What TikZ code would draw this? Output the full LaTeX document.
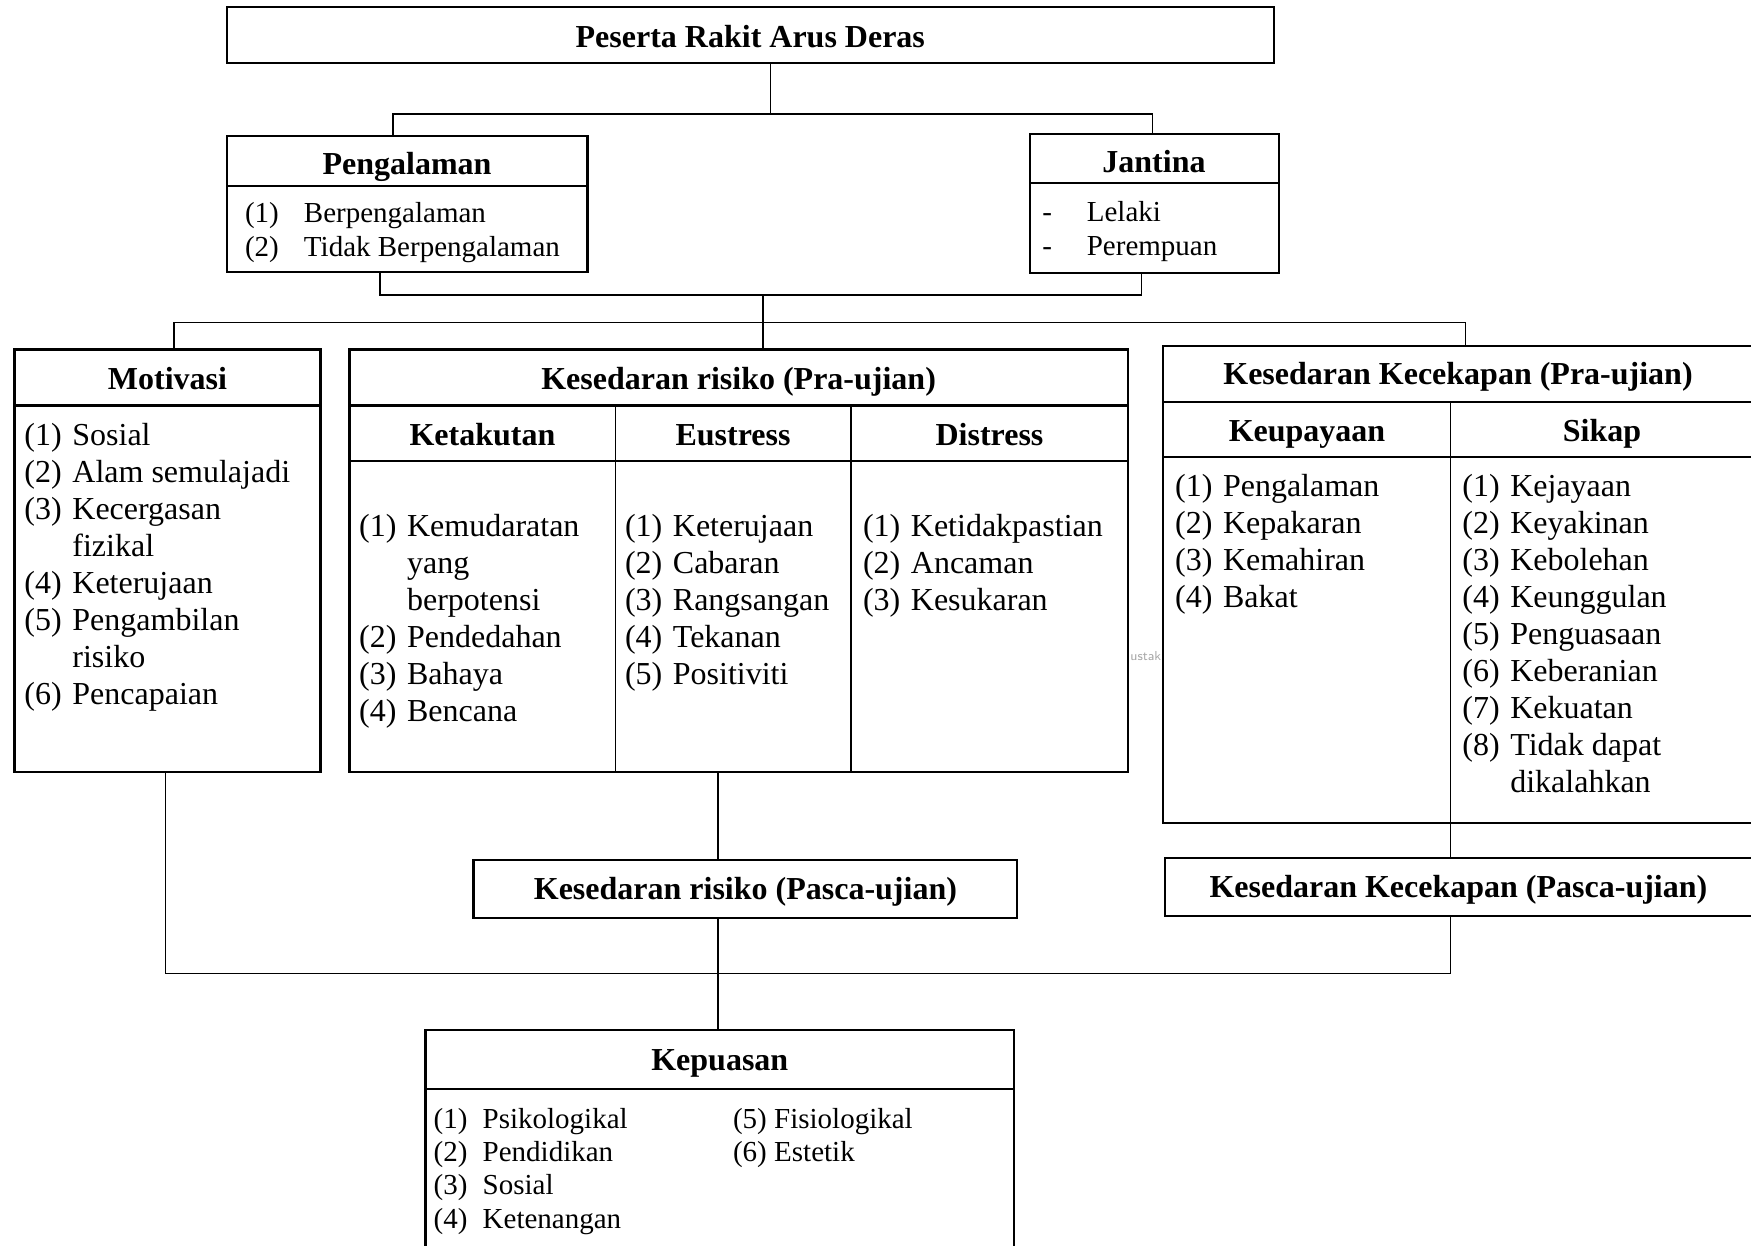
\documentclass[tikz,border=0pt]{standalone}
\usepackage{fontspec}
\setmainfont{Liberation Serif}
\usetikzlibrary{fit}
\tikzset{
  box/.style={draw, line width=1.1pt, inner sep=0pt},
  conn/.style={line width=0.8pt},
  hdiv/.style={line width=1.1pt},
  vdiv/.style={line width=0.7pt},
  head/.style={font=\fontsize{16}{19}\selectfont\bfseries, inner sep=0pt, anchor=base},
  lst/.style={font=\fontsize{16}{18.5}\selectfont, inner sep=0pt, anchor=base west},
  slst/.style={font=\fontsize{14.5}{17}\selectfont, inner sep=0pt, anchor=base west},
}
\begin{document}
\begin{tikzpicture}[x=0.5pt,y=-0.5pt]
\useasboundingbox (0,0) rectangle (1751,1246);
\clip (0,0) rectangle (1751,1246);

% ---------- boxes ----------
\node[box, fit={(226.7,7.3) (1274,63.3)}] (top) {};
\node[box, fit={(226.7,136) (587.4,271.7)}] (pg) {};
\node[box, fit={(1029.6,134) (1278.6,272.7)}] (jt) {};
\node[box, fit={(14.5,349.5) (320.5,771.6)}] (mot) {};
\node[box, fit={(349.5,349.5) (1127.7,771.6)}] (rp) {};
\node[box, fit={(1163,346) (1753,822.7)}] (kk) {};
\node[box, fit={(473.5,860) (1017.3,917.7)}] (rq) {};
\node[box, fit={(1164.7,858.3) (1753,916)}] (kq) {};
\node[box, fit={(425.5,1030) (1014,1262)}] (kp) {};

% ---------- dividers ----------
\draw[hdiv] (226.7,185.7) -- (587.4,185.7);
\draw[hdiv] (1029.6,183.3) -- (1278.6,183.3);
\draw[hdiv] (14.5,405.5) -- (320.5,405.5);
\draw[hdiv] (349.5,405.5) -- (1127.7,405.5);
\draw[hdiv] (349.5,461) -- (1127.7,461);
\draw[vdiv] (615.3,405.5) -- (615.3,771.6);
\draw[vdiv] (851,405.5) -- (851,771.6);
\draw[hdiv] (1163,401.7) -- (1753,401.7);
\draw[hdiv] (1163,457.3) -- (1753,457.3);
\draw[vdiv] (1450.6,401.7) -- (1450.6,822.7);
\draw[hdiv] (425.5,1089.3) -- (1014,1089.3);

% ---------- connector coordinates ----------
\coordinate (j1) at (770.5,114);
\coordinate (b1L) at (393,114);
\coordinate (b1R) at (1152.4,114);
\coordinate (b2L) at (379.7,295.3);
\coordinate (b2R) at (1141.3,295.3);
\coordinate (b2M) at (762.7,295.3);
\coordinate (b3M) at (762.7,322.7);
\coordinate (b3L) at (174.2,322.7);
\coordinate (b3R) at (1465.5,322.7);
\coordinate (c1) at (718,0);
\coordinate (c2) at (1450.6,0);
\coordinate (b4L) at (165.3,973.3);
\coordinate (b4R) at (1450.6,973.3);
\coordinate (b4M) at (718,973.3);

% ---------- connectors ----------
\draw[conn] (top.south -| j1) -- (j1);
\draw[conn] (pg.north -| b1L) |- (b1R) -- (jt.north -| b1R);
\draw[conn] (pg.south -| b2L) |- (b2R) -- (jt.south -| b2R);
\draw[conn] (b2M) -- (b3M);
\draw[conn] (mot.north -| b3L) |- (b3R) -- (kk.north -| b3R);
\draw[conn] (b3M) -- (rp.north -| b3M);
\draw[conn] (rp.south -| c1) -- (rq.north -| c1);
\draw[conn] (kk.south -| c2) -- (kq.north -| c2);
\draw[conn] (mot.south -| b4L) |- (b4R) -- (kq.south -| b4R);
\draw[conn] (rq.south -| b4M) -- (kp.north -| b4M);

% ---------- headings ----------
\node[head] (h0) at (750.3,47.7) {Peserta Rakit Arus Deras};
\node[head] (h1) at (407,175) {Pengalaman};
\node[head] (h2) at (1154,172.7) {Jantina};
\node[head] (h3) at (167.5,389.3) {Motivasi};
\node[head] (h4) at (738.6,389) {Kesedaran risiko (Pra-ujian)};
\node[head] (h5) at (482.4,445) {Ketakutan};
\node[head] (h6) at (733,445) {Eustress};
\node[head] (h7) at (989.5,445) {Distress};
\node[head] (h8) at (1458,385) {Kesedaran Kecekapan (Pra-ujian)};
\node[head] (h9) at (1307,441.7) {Keupayaan};
\node[head] (h10) at (1602,441.7) {Sikap};
\node[head] (h11) at (745.4,899.3) {Kesedaran risiko (Pasca-ujian)};
\node[head] (h12) at (1458.4,897.3) {Kesedaran Kecekapan (Pasca-ujian)};
\node[head] (h13) at (719.8,1070) {Kepuasan};

% ---------- lists ----------
\node[slst] (l1) at (244.6,222.7) {\begin{tabular}[t]{@{}l@{\hspace{12.6pt}}l@{}}
(1)&Berpengalaman\\
(2)&Tidak Berpengalaman
\end{tabular}};
\node[slst] (l2) at (1042,221.7) {\begin{tabular}[t]{@{}l@{\hspace{17.4pt}}l@{}}
-&Lelaki\\
-&Perempuan
\end{tabular}};
\node[lst] (l3) at (24.1,445) {\begin{tabular}[t]{@{}l@{\hspace{5.3pt}}l@{}}
(1)&Sosial\\
(2)&Alam semulajadi\\
(3)&Kecergasan\\
&fizikal\\
(4)&Keterujaan\\
(5)&Pengambilan\\
&risiko\\
(6)&Pencapaian
\end{tabular}};
\node[lst] (l4) at (358.8,536.5) {\begin{tabular}[t]{@{}l@{\hspace{5.3pt}}l@{}}
(1)&Kemudaratan\\
&yang\\
&berpotensi\\
(2)&Pendedahan\\
(3)&Bahaya\\
(4)&Bencana
\end{tabular}};
\node[lst] (l5) at (624.6,536.5) {\begin{tabular}[t]{@{}l@{\hspace{5.3pt}}l@{}}
(1)&Keterujaan\\
(2)&Cabaran\\
(3)&Rangsangan\\
(4)&Tekanan\\
(5)&Positiviti
\end{tabular}};
\node[lst] (l6) at (862.6,536) {\begin{tabular}[t]{@{}l@{\hspace{5.3pt}}l@{}}
(1)&Ketidakpastian\\
(2)&Ancaman\\
(3)&Kesukaran
\end{tabular}};
\node[lst] (l7) at (1174.7,496.7) {\begin{tabular}[t]{@{}l@{\hspace{5.3pt}}l@{}}
(1)&Pengalaman\\
(2)&Kepakaran\\
(3)&Kemahiran\\
(4)&Bakat
\end{tabular}};
\node[lst] (l8) at (1462,496.7) {\begin{tabular}[t]{@{}l@{\hspace{5.3pt}}l@{}}
(1)&Kejayaan\\
(2)&Keyakinan\\
(3)&Kebolehan\\
(4)&Keunggulan\\
(5)&Penguasaan\\
(6)&Keberanian\\
(7)&Kekuatan\\
(8)&Tidak dapat\\
&dikalahkan
\end{tabular}};
\node[slst, font=\fontsize{14.5}{16.67}\selectfont] (l9) at (433.3,1128.3) {\begin{tabular}[t]{@{}l@{\hspace{7.6pt}}l@{}}
(1)&Psikologikal\\
(2)&Pendidikan\\
(3)&Sosial\\
(4)&Ketenangan
\end{tabular}};
\node[slst, font=\fontsize{14.5}{16.67}\selectfont] (l10) at (732.6,1128.3) {\begin{tabular}[t]{@{}l@{\hspace{3.7pt}}l@{}}
(5)&Fisiologikal\\
(6)&Estetik
\end{tabular}};

% faint watermark remnant
\node[font=\sffamily\fontsize{6.5}{7}\selectfont, text=black!35, inner sep=0pt, anchor=base west] (wm) at (1130,660) {ustak};
\end{tikzpicture}
\end{document}
